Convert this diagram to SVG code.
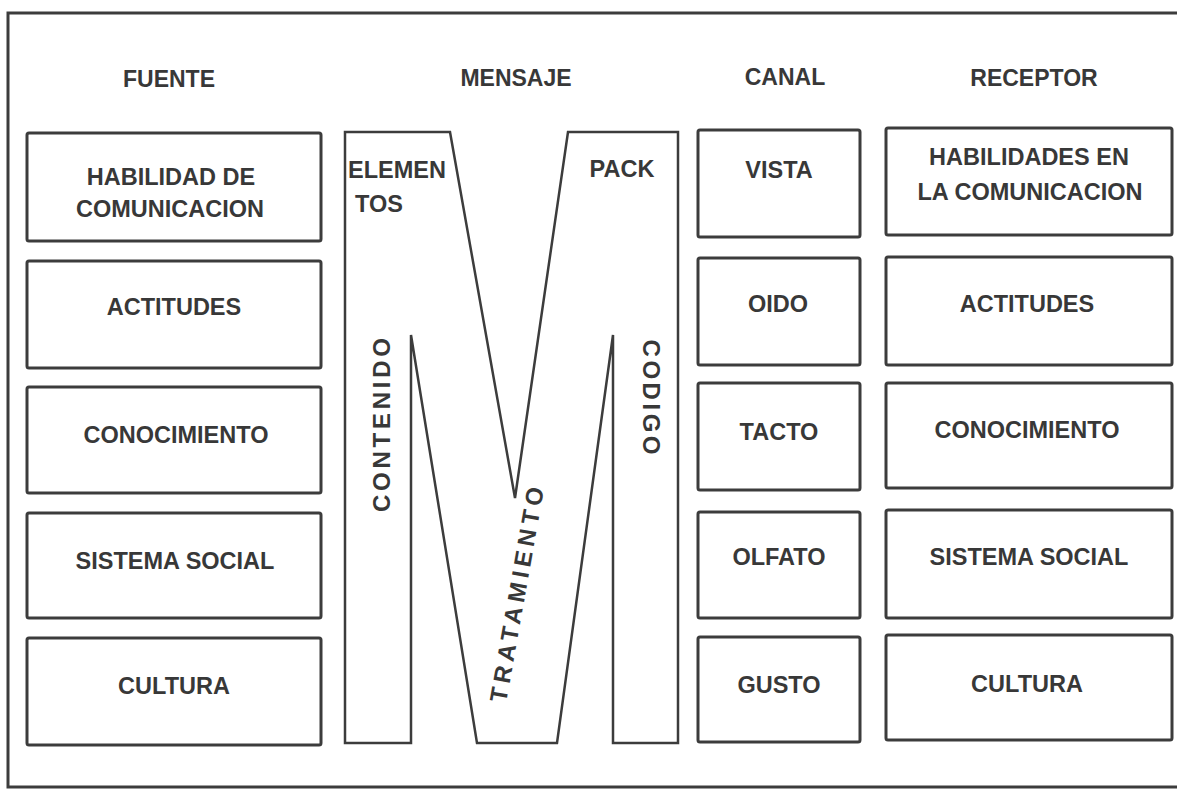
<svg xmlns="http://www.w3.org/2000/svg" width="1177" height="789" viewBox="0 0 1177 789">
<style>
.bg{fill:#fff}
.frame{fill:none;stroke:#3c3c3c;stroke-width:3}
.box{fill:#fff;stroke:#3c3c3c;stroke-width:3}
.m{fill:#fff;stroke:#3c3c3c;stroke-width:2.5;stroke-linejoin:miter}
text{font-family:"Liberation Sans",Arial,sans-serif;font-weight:bold;font-size:23.5px;fill:#383838;text-anchor:middle}
.h{font-size:23px}
.r{font-size:24px}
.s{text-anchor:start}
</style>
<rect class="bg" x="0" y="0" width="1177" height="789"/>
<rect class="frame" x="8" y="13" width="1180" height="774"/>

<g id="headers">
<text class="h" x="169" y="87">FUENTE</text>
<text class="h" x="516" y="86">MENSAJE</text>
<text class="h" x="785" y="85">CANAL</text>
<text class="h" x="1034" y="86">RECEPTOR</text>
</g>

<g id="fuente-1"><rect class="box" x="27" y="133" width="294" height="108" rx="2"/><text x="171" y="185">HABILIDAD DE</text><text x="170" y="217">COMUNICACION</text></g>
<g id="fuente-2"><rect class="box" x="27" y="261" width="294" height="107" rx="2"/><text x="174" y="315">ACTITUDES</text></g>
<g id="fuente-3"><rect class="box" x="27" y="387" width="294" height="106" rx="2"/><text x="176" y="443">CONOCIMIENTO</text></g>
<g id="fuente-4"><rect class="box" x="27" y="513" width="294" height="105" rx="2"/><text x="175" y="569">SISTEMA SOCIAL</text></g>
<g id="fuente-5"><rect class="box" x="27" y="638" width="294" height="107" rx="2"/><text x="174" y="694">CULTURA</text></g>

<g id="mensaje">
<path class="m" d="M345,132 L450,132 L515,498 L568,132 L678,132 L678,743 L613,743 L613,335 L557,743 L477,743 L411,335 L411,743 L345,743 Z"/>
<text class="s" x="348" y="178">ELEMEN</text>
<text class="s" x="355" y="212">TOS</text>
<text x="622" y="177">PACK</text>
<text class="r" transform="translate(390,425) rotate(-90)" x="0" y="0" textLength="174" lengthAdjust="spacing">CONTENIDO</text>
<text class="r" transform="translate(643,397) rotate(90)" x="0" y="0" textLength="115" lengthAdjust="spacing">CODIGO</text>
<text class="r" transform="translate(525,596) rotate(-80)" x="0" y="0" textLength="218" lengthAdjust="spacing">TRATAMIENTO</text>
</g>

<g id="canal-1"><rect class="box" x="698" y="130" width="162" height="107" rx="2"/><text x="779" y="178">VISTA</text></g>
<g id="canal-2"><rect class="box" x="698" y="258" width="162" height="107" rx="2"/><text x="778" y="312">OIDO</text></g>
<g id="canal-3"><rect class="box" x="698" y="383" width="162" height="107" rx="2"/><text x="779" y="440">TACTO</text></g>
<g id="canal-4"><rect class="box" x="698" y="512" width="162" height="106" rx="2"/><text x="779" y="565">OLFATO</text></g>
<g id="canal-5"><rect class="box" x="698" y="637" width="162" height="105" rx="2"/><text x="779" y="693">GUSTO</text></g>

<g id="receptor-1"><rect class="box" x="886" y="128" width="286" height="107" rx="2"/><text x="1029" y="165">HABILIDADES EN</text><text x="1030" y="200">LA COMUNICACION</text></g>
<g id="receptor-2"><rect class="box" x="886" y="257" width="286" height="108" rx="2"/><text x="1027" y="312">ACTITUDES</text></g>
<g id="receptor-3"><rect class="box" x="886" y="383" width="286" height="105" rx="2"/><text x="1027" y="438">CONOCIMIENTO</text></g>
<g id="receptor-4"><rect class="box" x="886" y="510" width="286" height="108" rx="2"/><text x="1029" y="565">SISTEMA SOCIAL</text></g>
<g id="receptor-5"><rect class="box" x="886" y="635" width="286" height="105" rx="2"/><text x="1027" y="692">CULTURA</text></g>

<g id="connectors"></g>
</svg>
